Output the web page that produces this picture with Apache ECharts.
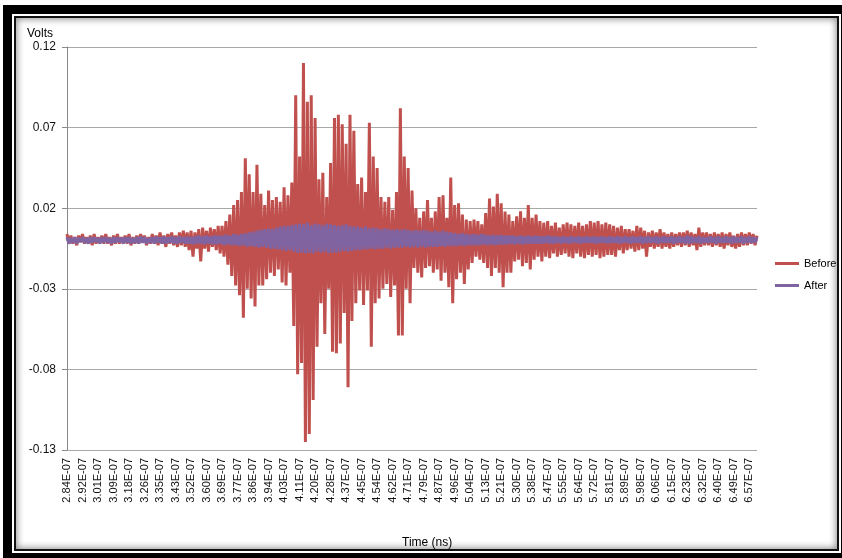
<!DOCTYPE html>
<html>
<head>
<meta charset="utf-8">
<script src="https://cdn.jsdelivr.net/npm/echarts@6/dist/echarts.min.js"></script>
<style>
    html, body {
        margin: 0;
        padding: 0;
        width: 842px;
        height: 558px;
        overflow: hidden;
        background: #fff;
    }
    .frame {
        position: absolute;
        left: 3px;
        top: 5px;
        width: 847px;
        height: 557px;
        box-sizing: border-box;
        border: 9px solid #000;
        background: #fff;
    }
    .frame .inner {
        position: absolute;
        left: 2px;
        top: 2px;
        right: 2px;
        bottom: 2px;
        border: 2px solid #111;
        box-shadow: inset 0 0 7px 1px rgba(0, 0, 0, 0.45);
    }
    #chart {
        position: absolute;
        left: 0;
        top: 0;
        width: 842px;
        height: 558px;
    }
</style>
</head>
<body>
<div class="frame"><div class="inner"></div></div>
<div id="chart"></div>
<script>
// 刻度标签 (每8个采样点一个)
const tickLabels = [
    '2.84E-07', '2.92E-07', '3.01E-07', '3.09E-07', '3.18E-07', '3.26E-07', '3.35E-07', '3.43E-07',
    '3.52E-07', '3.60E-07', '3.69E-07', '3.77E-07', '3.86E-07', '3.94E-07', '4.03E-07', '4.11E-07',
    '4.20E-07', '4.28E-07', '4.37E-07', '4.45E-07', '4.54E-07', '4.62E-07', '4.71E-07', '4.79E-07',
    '4.87E-07', '4.96E-07', '5.04E-07', '5.13E-07', '5.21E-07', '5.30E-07', '5.38E-07', '5.47E-07',
    '5.55E-07', '5.64E-07', '5.72E-07', '5.81E-07', '5.89E-07', '5.98E-07', '6.06E-07', '6.15E-07',
    '6.23E-07', '6.32E-07', '6.40E-07', '6.49E-07', '6.57E-07'
]
const labelStep = 8

// Before (volts)
const before = [
    0.004, -0.002, 0.003, -0.002, 0.002, -0.003, 0.003, -0.001, 0.004, -0.002,
    0.002, -0.002, 0.003, -0.003, 0.004, -0.002, 0.002, -0.001, 0.003, -0.002,
    0.004, -0.002, 0.002, -0.003, 0.003, -0.002, 0.004, -0.002, 0.002, -0.001,
    0.003, -0.002, 0.004, -0.003, 0.002, -0.002, 0.003, -0.002, 0.004, -0.001,
    0.003, -0.003, 0.002, -0.002, 0.004, -0.002, 0.003, -0.003, 0.005, -0.002,
    0.003, -0.004, 0.004, -0.002, 0.005, -0.003, 0.003, -0.004, 0.005, -0.003,
    0.006, -0.004, 0.005, -0.006, 0.006, -0.010, 0.005, -0.005, 0.007, -0.013,
    0.008, -0.005, 0.006, -0.007, 0.008, -0.004, 0.007, -0.006, 0.009, -0.008,
    0.009, -0.010, 0.012, -0.015, 0.016, -0.022, 0.022, -0.028, 0.025, -0.034,
    0.030, -0.048, 0.051, -0.030, 0.041, -0.036, 0.030, -0.041, 0.047, -0.028,
    0.029, -0.028, 0.022, -0.024, 0.031, -0.020, 0.025, -0.022, 0.027, -0.018,
    0.024, -0.026, 0.033, -0.028, 0.028, -0.020, 0.036, -0.053, 0.090, -0.083,
    0.052, -0.076, 0.110, -0.125, 0.086, -0.120, 0.090, -0.099, 0.076, -0.066,
    0.038, -0.039, 0.042, -0.058, 0.027, -0.030, 0.048, -0.069, 0.076, -0.070,
    0.078, -0.064, 0.072, -0.045, 0.060, -0.091, 0.078, -0.050, 0.068, -0.039,
    0.035, -0.031, 0.039, -0.040, 0.030, -0.031, 0.073, -0.066, 0.052, -0.039,
    0.045, -0.036, 0.027, -0.030, 0.024, -0.027, 0.027, -0.035, 0.019, -0.028,
    0.030, -0.059, 0.082, -0.059, 0.052, -0.030, 0.045, -0.039, 0.031, -0.017,
    0.020, -0.020, 0.014, -0.023, 0.018, -0.017, 0.025, -0.016, 0.014, -0.020,
    0.018, -0.018, 0.027, -0.025, 0.028, -0.020, 0.014, -0.029, 0.039, -0.039,
    0.022, -0.024, 0.023, -0.020, 0.016, -0.027, 0.013, -0.018, 0.012, -0.014,
    0.013, -0.010, 0.012, -0.012, 0.010, -0.014, 0.017, -0.017, 0.026, -0.022,
    0.021, -0.017, 0.029, -0.020, 0.023, -0.029, 0.018, -0.020, 0.016, -0.020,
    0.012, -0.013, 0.015, -0.012, 0.018, -0.016, 0.014, -0.014, 0.022, -0.018,
    0.014, -0.012, 0.016, -0.010, 0.012, -0.013, 0.011, -0.010, 0.012, -0.011,
    0.009, -0.008, 0.011, -0.010, 0.008, -0.009, 0.010, -0.008, 0.011, -0.010,
    0.010, -0.011, 0.009, -0.008, 0.011, -0.010, 0.009, -0.011, 0.010, -0.009,
    0.012, -0.010, 0.011, -0.009, 0.012, -0.011, 0.010, -0.010, 0.011, -0.009,
    0.010, -0.009, 0.009, -0.010, 0.008, -0.006, 0.009, -0.008, 0.007, -0.006,
    0.007, -0.005, 0.006, -0.007, 0.009, -0.006, 0.008, -0.005, 0.006, -0.010,
    0.005, -0.004, 0.006, -0.005, 0.005, -0.004, 0.007, -0.005, 0.005, -0.004,
    0.004, -0.005, 0.005, -0.004, 0.004, -0.003, 0.005, -0.004, 0.005, -0.003,
    0.006, -0.004, 0.005, -0.003, 0.004, -0.006, 0.008, -0.004, 0.005, -0.003,
    0.005, -0.003, 0.004, -0.004, 0.005, -0.003, 0.004, -0.004, 0.005, -0.005,
    0.004, -0.003, 0.005, -0.004, 0.003, -0.005, 0.004, -0.004, 0.005, -0.003,
    0.004, -0.003, 0.005, -0.002, 0.004, -0.003, 0.003
]

// After (volts)
const after = [
    0.002, -0.002, 0.0015, -0.0015, 0.002, -0.002, 0.0015, -0.001, 0.002, -0.0015,
    0.0015, -0.002, 0.002, -0.0015, 0.002, -0.001, 0.0015, -0.002, 0.002, -0.0015,
    0.002, -0.0015, 0.0015, -0.002, 0.002, -0.0015, 0.002, -0.001, 0.0015, -0.002,
    0.002, -0.0015, 0.002, -0.002, 0.0015, -0.0015, 0.002, -0.002, 0.0025, -0.0015,
    0.002, -0.002, 0.0015, -0.0015, 0.002, -0.002, 0.0025, -0.0015, 0.002, -0.002,
    0.0025, -0.002, 0.002, -0.0015, 0.0025, -0.002, 0.002, -0.002, 0.0025, -0.0015,
    0.002, -0.002, 0.0025, -0.002, 0.002, -0.0025, 0.0025, -0.002, 0.003, -0.002,
    0.0025, -0.0025, 0.003, -0.002, 0.0025, -0.0025, 0.003, -0.0025, 0.003, -0.002,
    0.003, -0.003, 0.0035, -0.0025, 0.003, -0.003, 0.004, -0.003, 0.0035, -0.0035,
    0.004, -0.003, 0.0045, -0.004, 0.005, -0.0035, 0.0055, -0.004, 0.006, -0.0045,
    0.0065, -0.004, 0.007, -0.0045, 0.0075, -0.005, 0.007, -0.005, 0.008, -0.0055,
    0.0085, -0.006, 0.009, -0.0065, 0.009, -0.006, 0.0095, -0.007, 0.010, -0.0075,
    0.0105, -0.0075, 0.010, -0.008, 0.011, -0.0075, 0.0095, -0.008, 0.0105, -0.007,
    0.010, -0.0075, 0.0095, -0.007, 0.0105, -0.008, 0.010, -0.0075, 0.0095, -0.0075,
    0.009, -0.007, 0.0095, -0.0065, 0.010, -0.007, 0.009, -0.0065, 0.0085, -0.006,
    0.0085, -0.006, 0.008, -0.0055, 0.0085, -0.0055, 0.0075, -0.005, 0.008, -0.0055,
    0.0075, -0.005, 0.007, -0.005, 0.0075, -0.0045, 0.007, -0.005, 0.0065, -0.0045,
    0.007, -0.0045, 0.0065, -0.0045, 0.007, -0.004, 0.0065, -0.0045, 0.006, -0.004,
    0.0065, -0.0045, 0.006, -0.004, 0.0065, -0.0045, 0.006, -0.004, 0.0055, -0.004,
    0.006, -0.004, 0.0055, -0.0035, 0.006, -0.004, 0.0055, -0.0035, 0.005, -0.0035,
    0.0045, -0.0035, 0.004, -0.003, 0.0045, -0.0035, 0.004, -0.003, 0.0035, -0.003,
    0.004, -0.003, 0.0035, -0.003, 0.004, -0.0025, 0.0035, -0.003, 0.003, -0.0025,
    0.0035, -0.003, 0.003, -0.0025, 0.0035, -0.0025, 0.003, -0.0025, 0.003, -0.002,
    0.003, -0.0025, 0.0025, -0.002, 0.003, -0.0025, 0.0025, -0.002, 0.003, -0.002,
    0.0025, -0.002, 0.003, -0.002, 0.0025, -0.002, 0.0025, -0.0015, 0.003, -0.002,
    0.0025, -0.002, 0.0025, -0.0015, 0.002, -0.002, 0.0025, -0.0015, 0.002, -0.002,
    0.0025, -0.0015, 0.002, -0.0015, 0.0025, -0.002, 0.002, -0.0015, 0.0025, -0.0015,
    0.002, -0.0015, 0.0025, -0.002, 0.002, -0.0015, 0.0025, -0.0015, 0.002, -0.002,
    0.0025, -0.0015, 0.002, -0.0015, 0.0025, -0.002, 0.002, -0.0015, 0.0025, -0.0015,
    0.002, -0.002, 0.0025, -0.0015, 0.002, -0.0015, 0.0025, -0.002, 0.002, -0.0015,
    0.0025, -0.0015, 0.002, -0.0015, 0.0025, -0.002, 0.002, -0.0015, 0.0025, -0.0015,
    0.002, -0.0015, 0.0025, -0.002, 0.002, -0.0015, 0.0025, -0.0015, 0.002, -0.002,
    0.003, -0.002, 0.0025, -0.0015, 0.002, -0.0015, 0.0025, -0.002, 0.002, -0.0015,
    0.002, -0.0015, 0.0025, -0.0015, 0.002, -0.002, 0.0025, -0.0015, 0.002, -0.0015,
    0.0025, -0.0015, 0.002, -0.002, 0.0025, -0.0015, 0.002, -0.0015, 0.0025, -0.002,
    0.002, -0.0015, 0.0025, -0.0015, 0.002, -0.0015, 0.002
]

// 类目: 每 labelStep 个点放一个刻度标签
const categories = before.map((v, i) => (i % labelStep === 0 ? (tickLabels[i / labelStep] || '') : ''))

const fontFamily = 'Liberation Sans, Arial, sans-serif'

let option = {
    animation: false,
    textStyle: {
        fontFamily: fontFamily
    },
    title: [
        {
            text: 'Volts',
            left: 22,
            top: 23,
            textStyle: {fontSize: 12, fontWeight: 'normal', color: '#000', fontFamily: fontFamily}
        },
        {
            text: 'Time (ns)',
            left: 397,
            top: 532,
            textStyle: {fontSize: 12, fontWeight: 'normal', color: '#000', fontFamily: fontFamily}
        }
    ],
    legend: {
        orient: 'vertical',
        left: 770,
        top: 253,
        icon: 'rect',
        itemWidth: 24,
        itemHeight: 3,
        itemGap: 11,
        textStyle: {fontSize: 11, color: '#000'},
        data: ['Before', 'After']
    },
    grid: {
        left: 67,
        top: 47,
        width: 690,
        height: 403
    },
    xAxis: {
        type: 'category',
        boundaryGap: false,
        data: categories,
        axisLine: {lineStyle: {color: '#888', width: 1}},
        axisTick: {show: false},
        axisLabel: {
            interval: labelStep - 1,
            rotate: 90,
            margin: 8,
            fontSize: 11,
            color: '#111'
        },
        splitLine: {show: false}
    },
    yAxis: {
        type: 'value',
        min: -0.13,
        max: 0.12,
        interval: 0.05,
        axisLine: {show: true, lineStyle: {color: '#888', width: 1}},
        axisTick: {show: true, length: 5, lineStyle: {color: '#888'}},
        axisLabel: {
            margin: 11,
            fontSize: 12,
            color: '#111',
            formatter: (v) => v.toFixed(2)
        },
        splitLine: {lineStyle: {color: '#a8a8a8', width: 1}}
    },
    series: [
        {
            name: 'Before',
            type: 'line',
            symbol: 'none',
            data: before,
            color: '#C0504D',
            lineStyle: {width: 3}
        },
        {
            name: 'After',
            type: 'line',
            symbol: 'none',
            data: after,
            color: '#8064A2',
            lineStyle: {width: 3}
        }
    ]
}

let myChart = echarts.init(document.getElementById('chart'))
myChart.setOption(option)
</script>
</body>
</html>
